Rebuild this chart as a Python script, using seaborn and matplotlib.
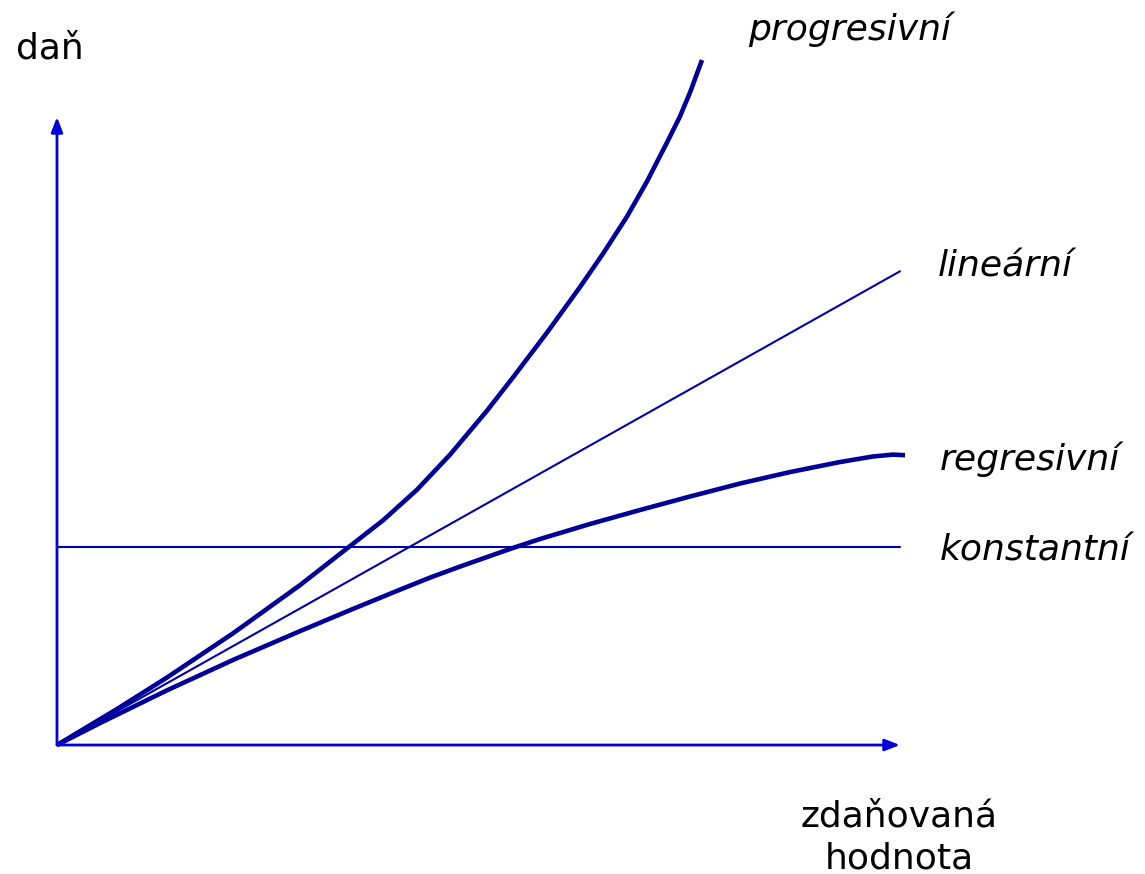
import matplotlib
matplotlib.use("Agg")
import matplotlib.pyplot as plt
import seaborn as sns

sns.set_style("white")
plt.rcParams['font.family'] = ['DejaVu Sans']

# data (tax base on x, tax on y; arbitrary units)
prog_x = [0.000, 0.712, 1.305, 2.088, 2.883, 3.440, 3.867, 4.270, 4.662, 5.101,
          5.409, 5.813, 6.204, 6.477, 6.762, 6.999, 7.236, 7.390, 7.509, 7.651]
prog_y = [0.000, 0.427, 0.801, 1.325, 1.897, 2.332, 2.665, 3.028, 3.444, 3.966,
          4.361, 4.893, 5.433, 5.829, 6.270, 6.686, 7.148, 7.457, 7.741, 8.126]

regr_x = [0.000, 0.510, 1.305, 2.088, 2.883, 3.476, 4.069, 4.425, 4.781, 5.409,
          5.730, 6.323, 6.916, 7.509, 8.102, 8.695, 9.288, 9.680, 9.917, 10.059]
regr_y = [0.000, 0.260, 0.649, 1.009, 1.351, 1.600, 1.843, 1.986, 2.117, 2.338,
          2.444, 2.622, 2.788, 2.948, 3.102, 3.238, 3.357, 3.423, 3.445, 3.438]

lin_x = [0.0, 10.0]
lin_y = [0.0, 5.62]

const_x = [0.0, 10.0]
const_y = [2.35, 2.35]

labels = ["progresivní", "lineární", "regresivní", "konstantní"]
y_label = "daň"
x_label = ["zdaňovaná", "hodnota"]

fig = plt.figure(figsize=(11.45, 8.74), dpi=100)
ax = fig.add_axes([0, 0, 1, 1])
ax.set_xlim(-0.676, 12.906)
ax.set_ylim(-1.530, 8.838)
ax.set_axis_off()

curve_col = "#000099"
thin_col = "#0000A8"
axis_col = "#0000DD"

sns.lineplot(x=prog_x, y=prog_y, sort=False, ax=ax, color=curve_col, lw=3.3,
             solid_capstyle="butt", solid_joinstyle="round")
sns.lineplot(x=regr_x, y=regr_y, sort=False, ax=ax, color=curve_col, lw=3.3,
             solid_capstyle="butt", solid_joinstyle="round")
sns.lineplot(x=lin_x, y=lin_y, sort=False, ax=ax, color=thin_col, lw=1.5)
sns.lineplot(x=const_x, y=const_y, sort=False, ax=ax, color=thin_col, lw=1.5)

# axes arrows
arrow = dict(arrowstyle="-|>,head_length=0.9,head_width=0.35", color=axis_col,
             lw=2.0, shrinkA=0, shrinkB=0)
ax.annotate("", xy=(0, 7.45), xytext=(0, 0), arrowprops=arrow)
ax.annotate("", xy=(10.0, 0), xytext=(0, 0), arrowprops=arrow)

fs = 26
tc = "black"
ax.text(8.20, 8.36, labels[0], fontsize=fs, style="italic", ha="left", va="baseline", color=tc)
ax.text(10.45, 5.56, labels[1], fontsize=fs, style="italic", ha="left", va="baseline", color=tc)
ax.text(10.47, 3.26, labels[2], fontsize=fs, style="italic", ha="left", va="baseline", color=tc)
ax.text(10.47, 2.19, labels[3], fontsize=fs, style="italic", ha="left", va="baseline", color=tc)

ax.text(-0.083, 8.14, y_label, fontsize=fs, ha="center", va="baseline", color=tc)
ax.text(9.99, -0.97, x_label[0], fontsize=fs, ha="center", va="baseline", color=tc)
ax.text(9.99, -1.46, x_label[1], fontsize=fs, ha="center", va="baseline", color=tc)

fig.savefig("out.png", dpi=100)
